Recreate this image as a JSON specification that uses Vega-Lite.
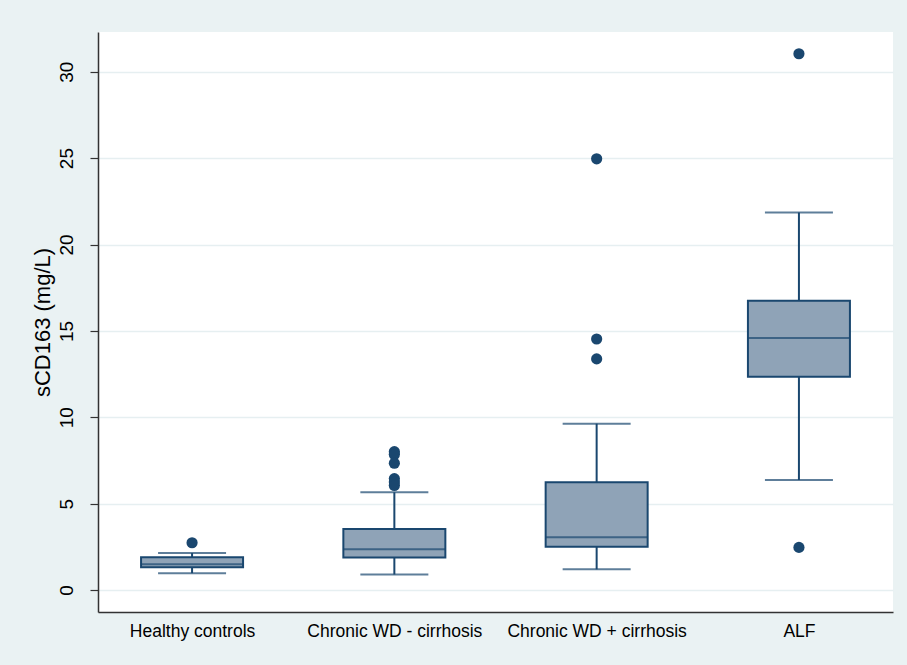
{
  "$schema": "https://vega.github.io/schema/vega-lite/v6.json",
  "autosize": {"type": "none"},
  "padding": {"left": 98, "top": 32, "right": 14, "bottom": 53},
  "width": 795,
  "height": 580,
  "background": "#EAF2F3",
  "config": {
    "view": {"fill": "white", "stroke": null},
    "font": "Liberation Sans",
    "axis": {"labelColor": "#000000", "titleColor": "#000000", "labelFont": "Liberation Sans", "titleFont": "Liberation Sans"}
  },
  "datasets": {
    "boxes": [
      {"group": "Healthy controls", "lo": 0.98, "q1": 1.32, "med": 1.5, "q3": 1.9, "hi": 2.14},
      {"group": "Chronic WD - cirrhosis", "lo": 0.9, "q1": 1.89, "med": 2.36, "q3": 3.53, "hi": 5.66},
      {"group": "Chronic WD + cirrhosis", "lo": 1.2, "q1": 2.51, "med": 3.05, "q3": 6.24, "hi": 9.63},
      {"group": "ALF", "lo": 6.37, "q1": 12.35, "med": 14.59, "q3": 16.75, "hi": 21.85}
    ],
    "outliers": [
      {"group": "Healthy controls", "value": 2.74},
      {"group": "Chronic WD - cirrhosis", "value": 8.01},
      {"group": "Chronic WD - cirrhosis", "value": 7.85},
      {"group": "Chronic WD - cirrhosis", "value": 7.34},
      {"group": "Chronic WD - cirrhosis", "value": 6.45},
      {"group": "Chronic WD - cirrhosis", "value": 6.25},
      {"group": "Chronic WD - cirrhosis", "value": 6.05},
      {"group": "Chronic WD + cirrhosis", "value": 24.96},
      {"group": "Chronic WD + cirrhosis", "value": 14.53},
      {"group": "Chronic WD + cirrhosis", "value": 13.38},
      {"group": "ALF", "value": 31.04},
      {"group": "ALF", "value": 2.47}
    ]
  },
  "encoding": {
    "x": {
      "field": "group", "type": "nominal",
      "sort": ["Healthy controls", "Chronic WD - cirrhosis", "Chronic WD + cirrhosis", "ALF"],
      "scale": {"type": "point", "padding": 0.465},
      "axis": {"title": null, "labelAngle": 0, "labelFontSize": 17.5, "ticks": false, "labelPadding": 10, "domainColor": "#333333", "domainWidth": 1.5, "grid": false}
    }
  },
  "layer": [
    {
      "data": {"name": "boxes"},
      "mark": {"type": "rule", "color": "#1A476F", "strokeWidth": 2},
      "encoding": {
        "y": {
          "field": "lo", "type": "quantitative",
          "scale": {"domain": [-1.27, 32.3], "nice": false, "zero": false},
          "axis": {
            "title": "sCD163 (mg/L)", "titleFontSize": 22, "titleFontWeight": "normal", "titlePadding": 3,
            "values": [0, 5, 10, 15, 20, 25, 30],
            "labelAngle": -90, "labelAlign": "center", "labelBaseline": "bottom", "labelFontSize": 19, "labelPadding": 14,
            "tickSize": 8, "tickColor": "#333333", "tickWidth": 1.2,
            "domainColor": "#333333", "domainWidth": 1.5,
            "grid": true, "gridColor": "#E6EFF1", "gridWidth": 1.5
          }
        },
        "y2": {"field": "hi"}
      }
    },
    {
      "data": {"name": "boxes"},
      "mark": {"type": "tick", "color": "#1A476F", "thickness": 2, "size": 68},
      "encoding": {"y": {"field": "lo", "type": "quantitative"}}
    },
    {
      "data": {"name": "boxes"},
      "mark": {"type": "tick", "color": "#1A476F", "thickness": 2, "size": 68},
      "encoding": {"y": {"field": "hi", "type": "quantitative"}}
    },
    {
      "data": {"name": "boxes"},
      "mark": {"type": "bar", "fill": "#8FA3B7", "stroke": "#1A476F", "strokeWidth": 2, "size": 102},
      "encoding": {"y": {"field": "q1", "type": "quantitative"}, "y2": {"field": "q3"}}
    },
    {
      "data": {"name": "boxes"},
      "mark": {"type": "tick", "color": "#1A476F", "thickness": 2, "size": 102},
      "encoding": {"y": {"field": "med", "type": "quantitative"}}
    },
    {
      "data": {"name": "outliers"},
      "mark": {"type": "circle", "color": "#1A476F", "opacity": 1, "size": 125},
      "encoding": {"y": {"field": "value", "type": "quantitative"}}
    }
  ]
}
